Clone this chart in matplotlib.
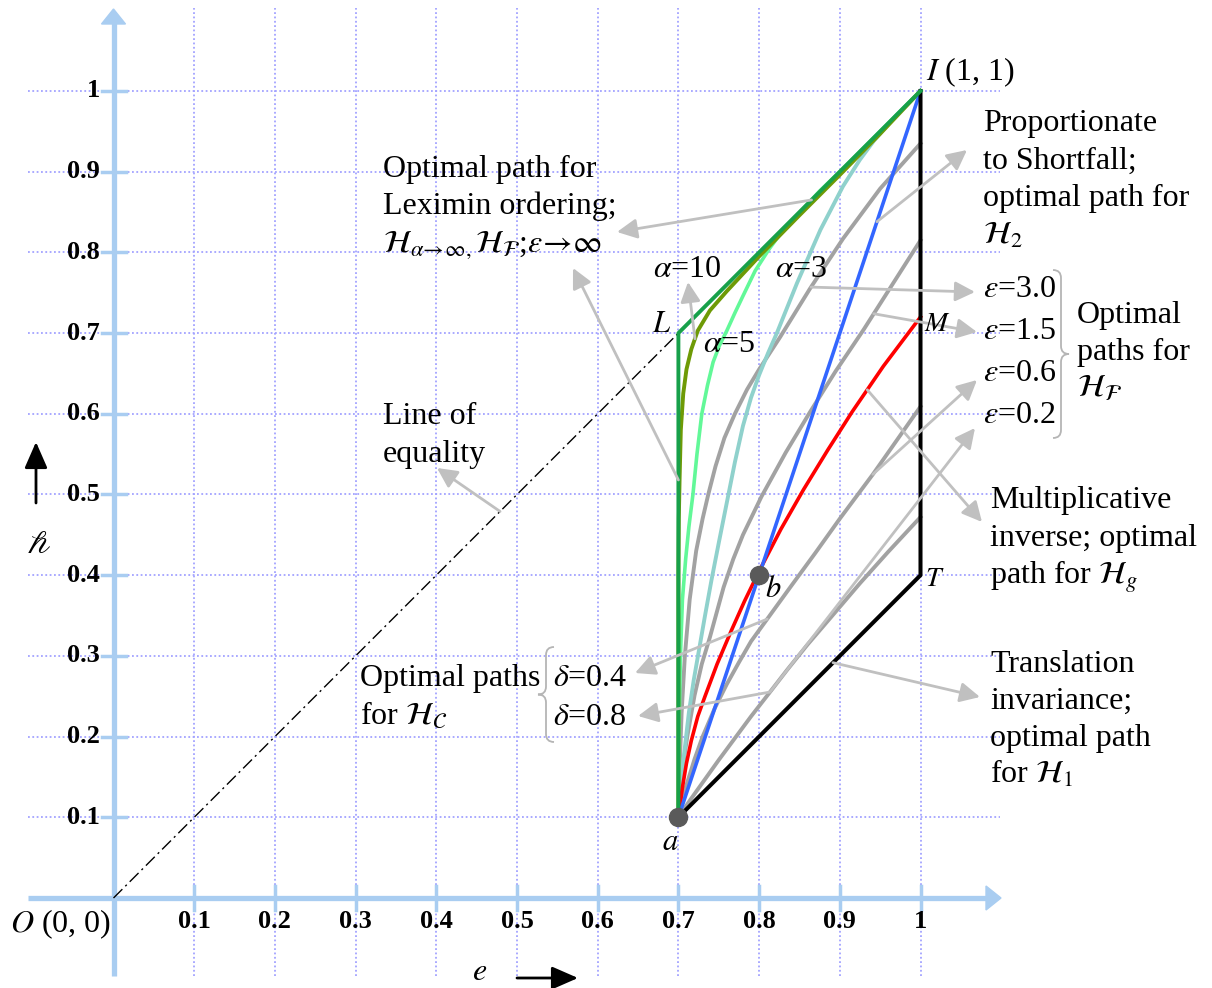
import numpy as np
import matplotlib
matplotlib.use('Agg')
import matplotlib.pyplot as plt
from matplotlib.path import Path
from matplotlib.patches import PathPatch, Polygon

plt.rcParams['font.family'] = ['Liberation Serif', 'DejaVu Serif']
plt.rcParams['mathtext.fontset'] = 'stix'

# canvas: image size and where the origin sits (pixels), pixels per unit
W, H = 1212, 988
X0, Y0, S = 113.5, 898.0, 807.0

# ---------------- data ----------------
ticks = [0.1, 0.2, 0.3, 0.4, 0.5, 0.6, 0.7, 0.8, 0.9, 1.0]
tick_labels = ['0.1', '0.2', '0.3', '0.4', '0.5', '0.6', '0.7', '0.8', '0.9', '1']

pt_a = (0.7, 0.1)
pt_b = (0.8, 0.4)

# leximin path a -> L -> I
lex_x = [0.7, 0.7, 1.0]
lex_y = [0.1, 0.7, 1.0]
# proportionate to shortfall a -> I
prop_x = [0.7, 1.0]
prop_y = [0.1, 1.0]
# translation invariance a -> T -> I
trans_x = [0.7, 1.0, 1.0]
trans_y = [0.1, 0.4, 1.0]

# alpha paths
a10_x = [0.7, 0.7, 0.7005, 0.7015, 0.703, 0.706, 0.710, 0.716, 0.724, 0.739, 0.76, 0.80, 0.85, 0.90, 0.95, 1.0]
a10_y = [0.1, 0.40, 0.47, 0.52, 0.58, 0.625, 0.655, 0.68, 0.703, 0.728, 0.752, 0.795, 0.846, 0.896, 0.947, 1.0]
a5_x = [0.7, 0.7003, 0.701, 0.7025, 0.705, 0.709, 0.713, 0.718, 0.723, 0.729, 0.736, 0.743, 0.751,
        0.760, 0.770, 0.780, 0.795, 0.813, 0.830, 0.850, 0.875, 0.90, 0.95, 1.0]
a5_y = [0.1, 0.15, 0.22, 0.30, 0.37, 0.42, 0.46, 0.50, 0.55, 0.60, 0.635, 0.664, 0.685,
        0.703, 0.725, 0.746, 0.777, 0.805, 0.828, 0.849, 0.876, 0.90, 0.95, 1.0]
a3_x = [0.7, 0.702, 0.705, 0.709, 0.713, 0.719, 0.726, 0.733, 0.741, 0.750, 0.760, 0.770, 0.780, 0.790,
        0.800, 0.811, 0.822, 0.847, 0.876, 0.904, 0.925, 0.942, 0.97, 1.0]
a3_y = [0.1, 0.13, 0.16, 0.195, 0.23, 0.27, 0.31, 0.35, 0.394, 0.44, 0.49, 0.54, 0.585, 0.62,
        0.648, 0.675, 0.70, 0.762, 0.828, 0.882, 0.915, 0.938, 0.97, 1.0]

# epsilon paths (gray)
e30_x = [0.7, 0.7015, 0.704, 0.708, 0.714, 0.722, 0.730, 0.737, 0.746, 0.757, 0.770, 0.785, 0.800,
         0.826, 0.863, 0.904, 0.950, 1.0]
e30_y = [0.1, 0.16, 0.23, 0.30, 0.37, 0.43, 0.47, 0.50, 0.535, 0.57, 0.60, 0.63, 0.655,
         0.695, 0.755, 0.817, 0.879, 0.935]
e15_x = [0.7, 0.702, 0.705, 0.711, 0.720, 0.729, 0.739, 0.756, 0.768, 0.780, 0.803, 0.833, 0.863,
         0.895, 0.930, 0.965, 1.0]
e15_y = [0.1, 0.13, 0.16, 0.20, 0.251, 0.29, 0.323, 0.385, 0.42, 0.45, 0.4975, 0.552, 0.602,
         0.653, 0.705, 0.76, 0.815]
e06_x = [0.7, 0.705, 0.71, 0.72, 0.73, 0.745, 0.76, 0.775, 0.79, 0.811, 0.84, 0.87, 0.90, 0.941, 1.0]
e06_y = [0.1, 0.121, 0.14, 0.172, 0.20, 0.235, 0.265, 0.292, 0.318, 0.347, 0.387, 0.428, 0.47, 0.525, 0.609]
e02_x = [0.7, 0.715, 0.73, 0.75, 0.77, 0.79, 0.811, 0.835, 0.86, 0.89, 0.925, 0.96, 1.0]
e02_y = [0.1, 0.122, 0.143, 0.171, 0.198, 0.225, 0.252, 0.283, 0.314, 0.349, 0.39, 0.429, 0.472]

# multiplicative inverse a -> b -> M
mult_x = [0.7, 0.702, 0.705, 0.710, 0.716, 0.724, 0.733, 0.748, 0.765, 0.782, 0.80, 0.827, 0.855,
          0.885, 0.915, 0.954, 1.0]
mult_y = [0.1, 0.115, 0.137, 0.167, 0.195, 0.225, 0.25, 0.29, 0.33, 0.368, 0.405, 0.457, 0.506,
          0.555, 0.602, 0.659, 0.72]

# ---------------- figure ----------------
fig = plt.figure(figsize=(W / 100, H / 100), dpi=100)
ax = fig.add_axes([0, 0, 1, 1])
ax.set_xlim(-X0 / S, (W - X0) / S)
ax.set_ylim((Y0 - H) / S, Y0 / S)
ax.axis('off')


def P(px, py):
    # image pixel -> data coordinates
    return ((px - X0) / S, (Y0 - py) / S)


grid_c = '#a3a3ff'
axis_c = '#a9cdf1'

# dotted grid
for t in ticks:
    ax.plot([t, t], [P(0, 976)[1], P(0, 8)[1]], color=grid_c, lw=1.3, ls=(0, (1, 1.4)), zorder=1)
    ax.plot([P(28, 0)[0], P(1000, 0)[0]], [t, t], color=grid_c, lw=1.3, ls=(0, (1, 1.4)), zorder=1)

# axes with arrow heads
ax.plot([0, 0], [P(0, 976)[1], P(0, 22)[1]], color=axis_c, lw=3.8, zorder=2, solid_capstyle='butt')
ax.plot([P(28, 0)[0], P(988, 0)[0]], [0, 0], color=axis_c, lw=3.8, zorder=2, solid_capstyle='butt')
ax.add_patch(Polygon([P(X0 - 12, 24), P(X0 + 12, 24), P(X0, 9)], closed=True, color=axis_c, zorder=2))
ax.add_patch(Polygon([P(986, Y0 - 12), P(986, Y0 + 12), P(1001, Y0)], closed=True, color=axis_c, zorder=2))
tk = 12 / S
for t in ticks:
    ax.plot([-tk, tk], [t, t], color=axis_c, lw=2.5, zorder=2)
    ax.plot([t, t], [-tk, tk], color=axis_c, lw=2.5, zorder=2)

# tick labels
for t, lab in zip(ticks, tick_labels):
    ax.text(P(100, 0)[0], t, lab, ha='right', va='center', fontsize=19, fontweight='bold', zorder=3)
    ax.text(t, P(0, 921)[1], lab, ha='center', va='center', fontsize=19, fontweight='bold', zorder=3)

# line of equality
ax.plot([0, 0.7], [0, 0.7], color='black', lw=1.0, ls=(0, (9, 3, 1.5, 3)), zorder=3)

# paths
gray = '#a2a2a2'
for xs, ys in [(e02_x, e02_y), (e06_x, e06_y), (e15_x, e15_y), (e30_x, e30_y)]:
    ax.plot(xs, ys, color=gray, lw=2.8, zorder=4)
ax.plot(a3_x, a3_y, color='#8fd1cc', lw=2.8, zorder=4)
ax.plot(a5_x, a5_y, color='#62f898', lw=2.6, zorder=4)
ax.plot(a10_x, a10_y, color='#6e9a06', lw=2.8, zorder=4)
ax.plot(mult_x, mult_y, color='#ff0000', lw=2.6, zorder=5)
ax.plot(prop_x, prop_y, color='#3366ff', lw=2.6, zorder=5)
ax.plot(trans_x, trans_y, color='black', lw=2.9, zorder=5)
ax.plot(lex_x, lex_y, color='#17a04a', lw=2.8, zorder=5)

ax.plot(*pt_a, 'o', ms=13, color='#5a5a5a', zorder=9)
ax.plot(*pt_b, 'o', ms=13, color='#5a5a5a', zorder=9)

# gray annotation arrows: tail on a path, head at a label
arr_c = '#c0c0c0'


def arrow(tail, head_px):
    ax.annotate('', xy=P(*head_px), xytext=tail,
                arrowprops=dict(arrowstyle='-|>,head_length=0.6,head_width=0.3', color=arr_c,
                                lw=2.0, shrinkA=0, shrinkB=0, mutation_scale=20), zorder=6)


def on_x(xs, ys, x):
    return (x, float(np.interp(x, xs, ys)))


def on_y(xs, ys, y):
    return (float(np.interp(y, ys, xs)), y)


arrow((0.865, 0.865), (617, 232))
arrow((0.7, 0.518), (573, 268))
arrow(on_y(a10_x[2:], a10_y[2:], 0.693), (688, 282))
arrow(on_x(prop_x, prop_y, 0.946), (967, 150))
arrow(on_y(e30_x, e30_y, 0.757), (975, 292))
arrow(on_y(e15_x, e15_y, 0.724), (977, 332))
arrow(on_x(e06_x, e06_y, 0.941), (977, 380))
arrow(on_x(e02_x, e02_y, 0.8135), (975, 428))
arrow(on_x(mult_x, mult_y, 0.934), (982, 522))
arrow(on_x(trans_x[:2], trans_y[:2], 0.8916), (980, 697))
arrow(on_x(e06_x, e06_y, 0.81), (635, 673))
arrow(on_x(e02_x, e02_y, 0.8135), (638, 716))
arrow((0.479, 0.479), (437, 468))


# curly braces
def brace(x_tip, x_mid, y0, y1):
    xb = (x_tip + x_mid) / 2
    c = (y0 + y1) / 2
    r = 8
    pts = [P(x_tip, y0), P(xb, y0), P(xb, y0 + r), P(xb, c - r), P(xb, c), P(x_mid, c),
           P(xb, c), P(xb, c + r), P(xb, y1 - r), P(xb, y1), P(x_tip, y1)]
    codes = [Path.MOVETO, Path.CURVE3, Path.CURVE3, Path.LINETO, Path.CURVE3, Path.CURVE3,
             Path.CURVE3, Path.CURVE3, Path.LINETO, Path.CURVE3, Path.CURVE3]
    ax.add_patch(PathPatch(Path(pts, codes), fill=False, edgecolor='#b5b5b5', lw=1.3, zorder=6))


brace(554, 538, 647, 742)
brace(1053, 1069, 270, 438)

# ---------------- texts ----------------
fs = 23


def txt(px, py, s, size=fs, **kw):
    ax.text(*P(px, py), s, fontsize=size, ha='left', va='baseline', zorder=8, **kw)


def block(px, py, dy, lines, size=fs):
    # one text per line, baselines dy pixels apart
    for i, s in enumerate(lines):
        txt(px, py + i * dy, s, size=size)


block(383, 177, 37.5, ['Optimal path for', 'Leximin ordering;',
                       r'$\mathcal{H}_{\alpha\!\to\!\infty,}\mathcal{H}_{\mathcal{F}}$;$\varepsilon\!\to\!\infty$'])
block(383, 424, 38, ['Line of', 'equality'])
block(360, 686, 38, ['Optimal paths', r'for $\mathcal{H}_{\mathcal{C}}$'])
txt(553, 686, r'$\delta$=0.4')
txt(553, 725, r'$\delta$=0.8')
txt(653, 277, r'$\alpha$=10')
txt(775, 277, r'$\alpha$=3')
txt(703, 352, r'$\alpha$=5')
txt(652, 332, r'$L$', size=22)
txt(924, 331, r'$M$', size=20)
txt(925, 586, r'$T$', size=20)
txt(765, 597, r'$b$', size=22)
txt(662, 850, r'$a$', size=22)
txt(926, 80, r'$I$ (1, 1)')
txt(10, 932, r'$O$ (0, 0)')
block(983, 131, 37.5, ['Proportionate', 'to Shortfall;', 'optimal path for', r'$\mathcal{H}_2$'])
block(983, 297, 42, [r'$\varepsilon$=3.0', r'$\varepsilon$=1.5', r'$\varepsilon$=0.6', r'$\varepsilon$=0.2'])
block(1077, 323, 37, ['Optimal', 'paths for', r'$\mathcal{H}_{\mathcal{F}}$'])
block(990, 508, 38, ['Multiplicative', 'inverse; optimal', r'path for $\mathcal{H}_g$'])
block(990, 672, 37, ['Translation', 'invariance;', 'optimal path', r'for $\mathcal{H}_1$'])

# axis names with black arrows
ax.text(*P(39, 545), '\U0001d4bd', fontsize=24, family='STIXGeneral', ha='center', va='center')
ax.annotate('', xy=P(36, 442), xytext=P(36, 503),
            arrowprops=dict(arrowstyle='-|>,head_length=0.8,head_width=0.35', color='black',
                            lw=2.0, shrinkA=0, shrinkB=0, mutation_scale=20))
txt(472, 980, r'$e$')
ax.annotate('', xy=P(578, 978), xytext=P(517, 978),
            arrowprops=dict(arrowstyle='-|>,head_length=0.8,head_width=0.35', color='black',
                            lw=2.0, shrinkA=0, shrinkB=0, mutation_scale=20))

fig.savefig('out.png', dpi=100)
